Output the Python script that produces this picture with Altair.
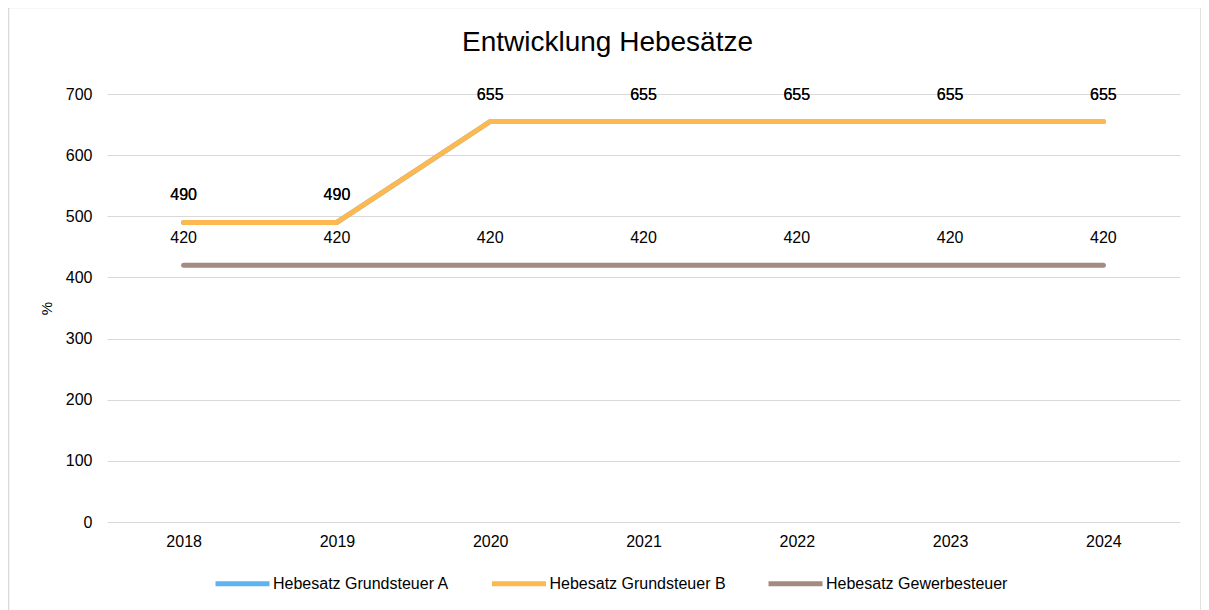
import altair as alt
import pandas as pd

years = ["2018", "2019", "2020", "2021", "2022", "2023", "2024"]
series_names = ["Hebesatz Grundsteuer A", "Hebesatz Grundsteuer B", "Hebesatz Gewerbesteuer"]
grundsteuer_a = [490, 490, 655, 655, 655, 655, 655]
grundsteuer_b = [490, 490, 655, 655, 655, 655, 655]
gewerbesteuer = [420, 420, 420, 420, 420, 420, 420]
colors = ["#5EB4F1", "#FDB84F", "#A48A80"]

rows = []
for order, (name, vals) in enumerate(zip(series_names, [grundsteuer_a, grundsteuer_b, gewerbesteuer])):
    for y, v in zip(years, vals):
        rows.append({"Jahr": y, "Serie": name, "Wert": v, "ord": order})
df = pd.DataFrame(rows)

FONT = "Liberation Sans"

x_enc = alt.X("Jahr:O", sort=years,
              scale=alt.Scale(type="point", padding=0.5),
              axis=alt.Axis(title=None, labelAngle=0, domain=False, ticks=False, tickSize=0,
                            grid=False, labelPadding=11, labelFontSize=16,
                            labelColor="#000000", labelFont=FONT))
y_enc = alt.Y("Wert:Q",
              scale=alt.Scale(domain=[0, 700], nice=False),
              axis=alt.Axis(title="%", values=[0, 100, 200, 300, 400, 500, 600, 700],
                            domain=False, ticks=False, tickSize=0, labelPadding=15,
                            labelFontSize=16, labelColor="#000000", labelFont=FONT,
                            gridColor="#D9D9D9", gridWidth=1,
                            titleFontSize=15, titleFontWeight="normal", titleColor="#000000",
                            titleFont=FONT, titlePadding=11))

color_enc = alt.Color("Serie:N", sort=series_names,
                      scale=alt.Scale(domain=series_names, range=colors),
                      legend=alt.Legend(title=None, orient="none", direction="horizontal",
                                        legendX=106, legendY=460,
                                        symbolType="stroke", symbolSize=2916,
                                        symbolStrokeWidth=5, labelFontSize=16,
                                        labelFont=FONT, labelColor="#000000",
                                        labelOffset=1, columnPadding=31.5,
                                        labelLimit=400))

base = alt.Chart(df)

lines = base.mark_line(strokeWidth=5, strokeCap="round", strokeJoin="round").encode(
    x=x_enc, y=y_enc, color=color_enc, order=alt.Order("ord:Q"),
    detail="Serie:N")

labels = base.mark_text(dy=-27, fontSize=16, font=FONT, color="#000000", baseline="middle").encode(
    x=alt.X("Jahr:O", sort=years), y=alt.Y("Wert:Q"), text=alt.Text("Wert:Q"))

border = alt.Chart(pd.DataFrame({"a": [0]})).mark_rect(
    fill=None, stroke="#D9D9D9", strokeWidth=1.5, clip=False).encode(
    x=alt.value(-98.5), x2=alt.value(1094), y=alt.value(-86.5), y2=alt.value(600))

chart = alt.layer(border, lines, labels).properties(
    width=1073, height=428,
    background="white",
    autosize=alt.AutoSizeParams(type="none"),
    padding={"left": 99, "top": 86, "right": 21, "bottom": 88},
    title=alt.TitleParams("Entwicklung Hebesätze", fontSize=28, font=FONT,
                          fontWeight="normal", color="#000000", anchor="middle",
                          baseline="alphabetic", dx=-36, offset=-72),
).configure_view(strokeWidth=0, stroke="transparent")

chart.save("out.html", embed_options={"renderer": "svg", "actions": False})
